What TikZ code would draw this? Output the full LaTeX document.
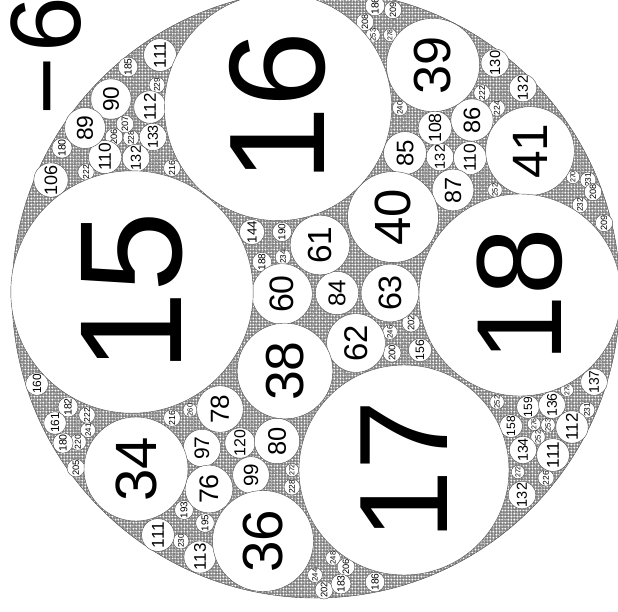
\documentclass[tikz,border=0pt]{standalone}
\usepackage{fontspec}
\setmainfont{Liberation Sans}
\usetikzlibrary{patterns}
\pgfdeclarepatternformonly{gdots}{\pgfqpoint{0pt}{0pt}}{\pgfqpoint{3.3pt}{3.3pt}}{\pgfqpoint{3.3pt}{3.3pt}}{\pgfpathcircle{\pgfqpoint{1.65pt}{1.65pt}}{1.3pt}\pgfusepath{fill}}
\pgfdeclarepatternformonly{grings}{\pgfqpoint{-1pt}{-1pt}}{\pgfqpoint{8pt}{8pt}}{\pgfqpoint{7.1pt}{6.3pt}}{\pgfsetlinewidth{0.3pt}\pgfpathcircle{\pgfqpoint{3.5pt}{3.1pt}}{2.6pt}\pgfusepath{stroke}}
\tikzset{
  circ/.style={draw=black!70, line width=0.4pt, fill=white},
  lab/.style={rotate=90, inner sep=0pt, text=black},
}
\newcommand\apcr[4]{%
  \pgfmathsetmacro\apfs{(#3<20 ? 1.2 : (#3<100 ? 1.12 : 1.05))*#4}%
  \draw[circ] (#1,#2) circle[radius=#4pt];
  \node[lab, font=\fontsize{\apfs pt}{\apfs pt}\selectfont] (c#1x#2) at (#1,#2) {#3};}
\newcommand\apc[3]{%
  \pgfmathsetmacro\apr{1818/#3}%
  \apcr{#1}{#2}{#3}{\apr}}
\begin{document}
\begin{tikzpicture}[x=1pt,y=-1pt]
\useasboundingbox (0,0) rectangle (618,611);
\clip (0,0) rectangle (618,611);
% gasket background texture
\fill[black!47] (316,294) circle[radius=304pt];
\fill[pattern=gdots, pattern color=white] (316,294) circle[radius=304pt];
\fill[pattern=grings, pattern color=black!55] (316,294) circle[radius=304pt];
\draw[black!70, line width=0.4pt] (316,294) circle[radius=304pt];
% small circles first
\apc{567}{390}{279}
\apc{390}{35}{278}
\apc{534}{424}{276}
\apc{292}{470}{272}
\apc{518}{472}{272}
\apc{573}{177}{270}
\apc{190}{410}{260}
\apc{373}{35}{253}
\apc{548}{425}{253}
\apc{495}{190}{252}
\apc{497}{402}{252}
\apc{538}{437}{252}
\apc{333}{558}{248}
\apc{390}{332}{246}
\apc{315}{575}{244}
\apc{88}{430}{241}
\apc{400}{108}{240}
\apc{283}{257}{234}
\apc{580}{205}{232}
\apc{588}{180}{231}
\apc{587}{410}{231}
\apc{181}{541}{230}
\apc{157}{85}{229}
\apc{131}{138}{228}
\apc{292}{487}{228}
\apc{546}{478}{226}
\apc{497}{108}{224}
\apc{86}{172}{222}
\apc{87}{415}{222}
\apc{482}{93}{222}
\apc{78}{442}{220}
\apc{172}{168}{216}
\apc{172}{418}{216}
\apc{604}{223}{209}
\apc{393}{10}{209}
\apc{365}{22}{208}
\apc{593}{192}{208}
\apc{125}{124}{207}
\apc{114}{137}{206}
\apc{346}{567}{206}
\apc{76}{468}{205}
\apc{411}{323}{202}
\apc{324}{590}{202}
\apc{392}{353}{200}
\apc{205}{523}{195}
\apc{184}{510}{193}
\apc{282}{232}{190}
\apc{262}{262}{188}
\apc{375}{6}{186}
\apc{375}{582}{186}
\apc{128}{67}{185}
\apc{341}{584}{183}
\apc{68}{407}{182}
\apc{62}{148}{180}
\apc{63}{443}{180}
\apc{55}{423}{161}
\apc{37}{384}{160}
\apc{528}{407}{159}
\apc{511}{426}{158}
\apc{420}{350}{156}
\apc{252}{232}{144}
\apc{594}{382}{137}
\apc{552}{405}{136}
\apc{523}{450}{134}
\apc{153}{137}{133}
\apc{136}{158}{132}
\apc{440}{157}{132}
\apc{523}{88}{132}
\apc{522}{495}{132}
\apc{495}{63}{130}
\apc{240}{443}{120}
\apc{200}{557}{113}
\apc{150}{107}{112}
\apc{572}{427}{112}
\apc{160}{55}{111}
\apc{158}{535}{111}
\apc{553}{455}{111}
\apc{105}{157}{110}
\apc{470}{158}{110}
\apc{435}{128}{108}
\apc{51}{180}{106}
\apc{251}{475}{99}
\apc{202}{448}{97}
\apc{111}{99}{90}
\apc{85}{128}{89}
\apc{453}{190}{87}
\apc{472}{120}{86}
\apc{405}{153}{85}
\apc{337}{293}{84}
\apc{277}{441}{80}
\apc{220}{409}{78}
\apc{209}{489}{76}
\apc{390}{293}{63}
\apc{356}{343}{62}
\apc{320}{245}{61}
\apc{282}{294}{60}
\apc{530}{151}{41}
\apc{393}{217}{40}
\apc{433}{65}{39}
\apc{285}{371}{38}
\apc{263}{541}{36}
\apcr{136}{469}{34}{52}
\apc{520}{295}{18}
\apcr{404}{470}{17}{105}
\apc{278}{107}{16}
\apc{132}{292}{15}
% outer curvature label
\node[lab, font=\fontsize{100pt}{100pt}\selectfont] (outerlab) at (46,56) {−\kern0.04em 6};
\end{tikzpicture}
\end{document}
